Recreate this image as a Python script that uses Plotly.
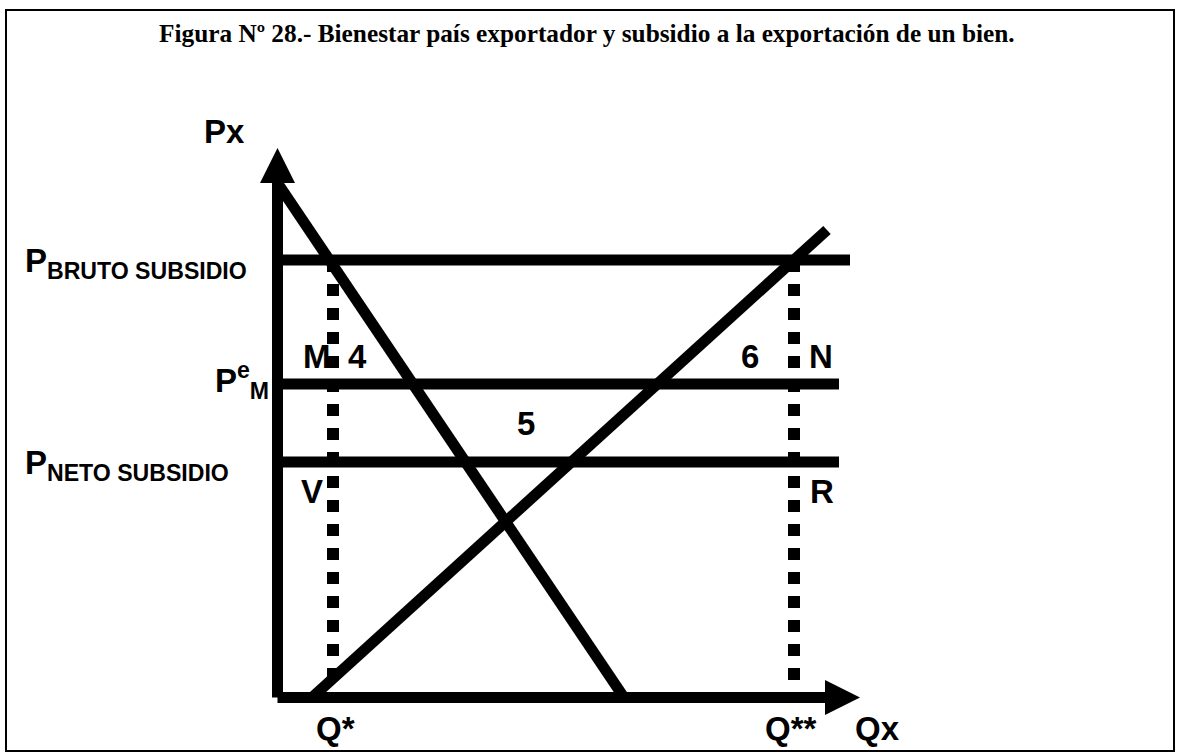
import plotly.graph_objects as go

# ---------------- data (economic diagram values, 1 unit = 10 px) ----------------
P_BRUTO = 43.75      # gross price with subsidy
P_EM = 31.35         # world equilibrium price
P_NETO = 23.55       # net price
Q_STAR = 5.55        # domestic consumption at P_BRUTO
Q_2STAR = 51.65      # domestic production at P_BRUTO

DEMAND_Q = [0.0, 34.65]
DEMAND_P = [51.45, 0.0]
SUPPLY_Q = [3.45, 54.95]
SUPPLY_P = [0.0, 46.75]

PRICE_LINE_END_BRUTO = 57.25
PRICE_LINE_END = 56.15

Y_AXIS_TOP = 54.95   # arrow tip
X_AXIS_END = 58.25   # arrow tip
ARROW_LEN = 3.5
ARROW_HALF = 1.75

X_RANGE = [-27.75, 90.05]
Y_RANGE = [-5.55, 69.75]

BLACK = "#000000"
LW = 11

fig = go.Figure()

def line(xs, ys, width=LW, dash="solid"):
    fig.add_trace(go.Scatter(x=xs, y=ys, mode="lines",
                             line=dict(color=BLACK, width=width, dash=dash),
                             hoverinfo="skip", showlegend=False))

# axes
line([0, 0], [0, Y_AXIS_TOP - ARROW_LEN])
line([0, X_AXIS_END - ARROW_LEN], [0, 0])
# arrow heads
fig.add_trace(go.Scatter(
    x=[-ARROW_HALF, ARROW_HALF, 0, -ARROW_HALF],
    y=[Y_AXIS_TOP - ARROW_LEN, Y_AXIS_TOP - ARROW_LEN, Y_AXIS_TOP, Y_AXIS_TOP - ARROW_LEN],
    mode="lines", fill="toself", fillcolor=BLACK, line=dict(color=BLACK, width=0),
    hoverinfo="skip", showlegend=False))
fig.add_trace(go.Scatter(
    x=[X_AXIS_END - ARROW_LEN, X_AXIS_END - ARROW_LEN, X_AXIS_END, X_AXIS_END - ARROW_LEN],
    y=[-ARROW_HALF, ARROW_HALF, 0, -ARROW_HALF],
    mode="lines", fill="toself", fillcolor=BLACK, line=dict(color=BLACK, width=0),
    hoverinfo="skip", showlegend=False))

# price lines
line([0, PRICE_LINE_END_BRUTO], [P_BRUTO, P_BRUTO])
line([0, PRICE_LINE_END], [P_EM, P_EM])
line([0, PRICE_LINE_END], [P_NETO, P_NETO])

# demand & supply
line(DEMAND_Q, DEMAND_P)
line(SUPPLY_Q, SUPPLY_P)

# dotted verticals
line([Q_STAR, Q_STAR], [P_BRUTO, 0], width=12, dash="12px,12px")
line([Q_2STAR, Q_2STAR], [P_BRUTO, 0], width=12, dash="12px,12px")

LBL = dict(family="Liberation Sans, Arial, sans-serif", size=33, color=BLACK)

def label(x, y, text, xanchor="center"):
    fig.add_annotation(x=x, y=y, xref="x", yref="y", text=text, showarrow=False,
                       font=LBL, xanchor=xanchor, yanchor="middle")

label(-5.35, 56.6, "<b>Px</b>")
label(-25.45, P_BRUTO - 0.3, "<b>P<sub>BRUTO SUBSIDIO</sub></b>", xanchor="left")
label(-25.45, P_NETO - 0.3, "<b>P<sub>NETO SUBSIDIO</sub></b>", xanchor="left")
label(-6.5, P_EM + 0.4, "<b>P<sup>e</sup><sub>M</sub></b>", xanchor="left")
label(Q_STAR - 1.6, 34.1, "<b>M</b>")
label(Q_STAR + 2.4, 34.1, "<b>4</b>")
label(47.25, 34.1, "<b>6</b>")
label(Q_2STAR + 2.7, 34.1, "<b>N</b>")
label(24.85, 27.4, "<b>5</b>")
label(Q_STAR - 2.1, 20.6, "<b>V</b>")
label(Q_2STAR + 2.8, 20.6, "<b>R</b>")
label(Q_STAR + 0.2, -3.1, "<b>Q*</b>")
label(Q_2STAR - 0.3, -3.1, "<b>Q**</b>")
label(57.55, -3.1, "<b>Qx</b>", xanchor="left")

fig.add_annotation(x=0.498, y=1 - 33/753, xref="paper", yref="paper", yanchor="middle",
                   text="<b>Figura Nº 28.- Bienestar país exportador y subsidio a la exportación de un bien.</b>",
                   showarrow=False,
                   font=dict(family="Liberation Serif, Times New Roman, serif", size=25.3, color=BLACK))

fig.update_layout(
    width=1178, height=753,
    margin=dict(l=0, r=0, t=0, b=0),
    paper_bgcolor="white", plot_bgcolor="white",
    xaxis=dict(range=X_RANGE, visible=False, fixedrange=True),
    yaxis=dict(range=Y_RANGE, visible=False, fixedrange=True),
    shapes=[dict(type="rect", xref="paper", yref="paper", x0=6/1178, x1=1174/1178,
                 y0=1 - 751/753, y1=1 - 10/753, line=dict(color=BLACK, width=2),
                 fillcolor="rgba(0,0,0,0)", layer="below")],
)

fig.write_html("out.html", config={"displayModeBar": False},
               post_script="document.body.style.margin='0';document.body.style.overflow='hidden';")
